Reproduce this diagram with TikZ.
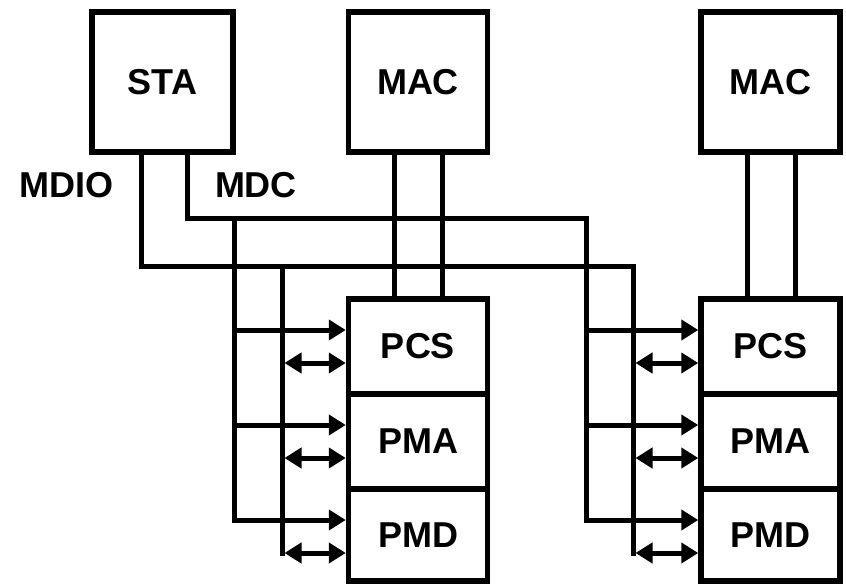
\documentclass[tikz,border=0pt]{standalone}
\usepackage{fontspec}
\setmainfont{Liberation Sans}
\usetikzlibrary{arrows.meta,calc}
\begin{document}
\begin{tikzpicture}[x=1pt,y=-1pt,
  box/.style={draw, line width=5.5pt, inner sep=0pt, outer sep=0pt, minimum width=139pt,
    font=\fontsize{36}{40}\selectfont\bfseries},
  wire/.style={line width=5pt},
  lab/.style={font=\fontsize{36}{40}\selectfont\bfseries, inner sep=0pt},
  onearrow/.style={wire, -{Triangle[length=17pt,width=20pt]}},
  twoarrow/.style={wire, {Triangle[length=17pt,width=20pt]}-{Triangle[length=17pt,width=20pt]}},
]
\useasboundingbox (0,0) rectangle (846,586);

% top boxes
\node[box, minimum width=141pt, minimum height=140pt] (sta) at (162.5,82) {STA};
\node[box, minimum height=140pt] (mac1) at (418,82) {MAC};
\node[box, minimum height=140pt] (mac2) at (770.5,82) {MAC};

% stacks
\node[box, minimum height=95pt] (pcs1) at (418,346.5) {PCS};
\node[box, minimum height=95pt] (pma1) at (418,441.5) {PMA};
\node[box, minimum height=92pt] (pmd1) at (418,535) {PMD};
\node[box, minimum height=95pt] (pcs2) at (770.5,346.5) {PCS};
\node[box, minimum height=95pt] (pma2) at (770.5,441.5) {PMA};
\node[box, minimum height=92pt] (pmd2) at (770.5,535) {PMD};

% labels
\node[lab] (mdiolab) at (66.5,185) {MDIO};
\node[lab] (mdclab) at (256,185) {MDC};

% junction / corner coordinates
\coordinate (stamdio) at ($(sta.south)+(-21.5,0)$);
\coordinate (stamdc) at ($(sta.south)+(24.5,0)$);
\coordinate (mdc1) at (234,218);
\coordinate (mdio1) at (282,266);
\coordinate (mdc2) at (586,218);
\coordinate (mdio2) at (633,266);

% arrow target points
\foreach \b in {pcs1,pma1,pmd1,pcs2,pma2,pmd2}{
  \coordinate (\b-s) at ($(\b.north west)+(-2.75,31)$);
  \coordinate (\b-t) at ($(\b.north west)+(-2.75,64)$);
}

% MAC to PCS links
\foreach \m/\p in {mac1/pcs1, mac2/pcs2}{
  \draw[wire] ($(\m.south)+(-23.5,0)$) -- ($(\p.north)+(-23.5,0)$);
  \draw[wire] ($(\m.south)+(24.5,0)$) -- ($(\p.north)+(24.5,0)$);
}

% MDC bus
\draw[onearrow] (stamdc) |- (mdc2) |- (pmd2-s);
\draw[onearrow] (mdc1) |- (pmd1-s);

% MDIO bus
\draw[wire] (stamdio) |- (mdio2) -- ($(mdio2 |- pmd2-t)+(0,2.5)$);
\draw[wire] (mdio1) -- ($(mdio1 |- pmd1-t)+(0,2.5)$);

% single arrows (MDC)
\foreach \b/\c in {pcs1/mdc1, pma1/mdc1, pcs2/mdc2, pma2/mdc2}{
  \draw[onearrow] (\b-s -| \c) -- (\b-s);
}
% double arrows (MDIO)
\foreach \b/\c in {pcs1/mdio1, pma1/mdio1, pmd1/mdio1, pcs2/mdio2, pma2/mdio2, pmd2/mdio2}{
  \draw[twoarrow] ($(\b-t -| \c)+(2.5,0)$) -- (\b-t);
}
\end{tikzpicture}
\end{document}
